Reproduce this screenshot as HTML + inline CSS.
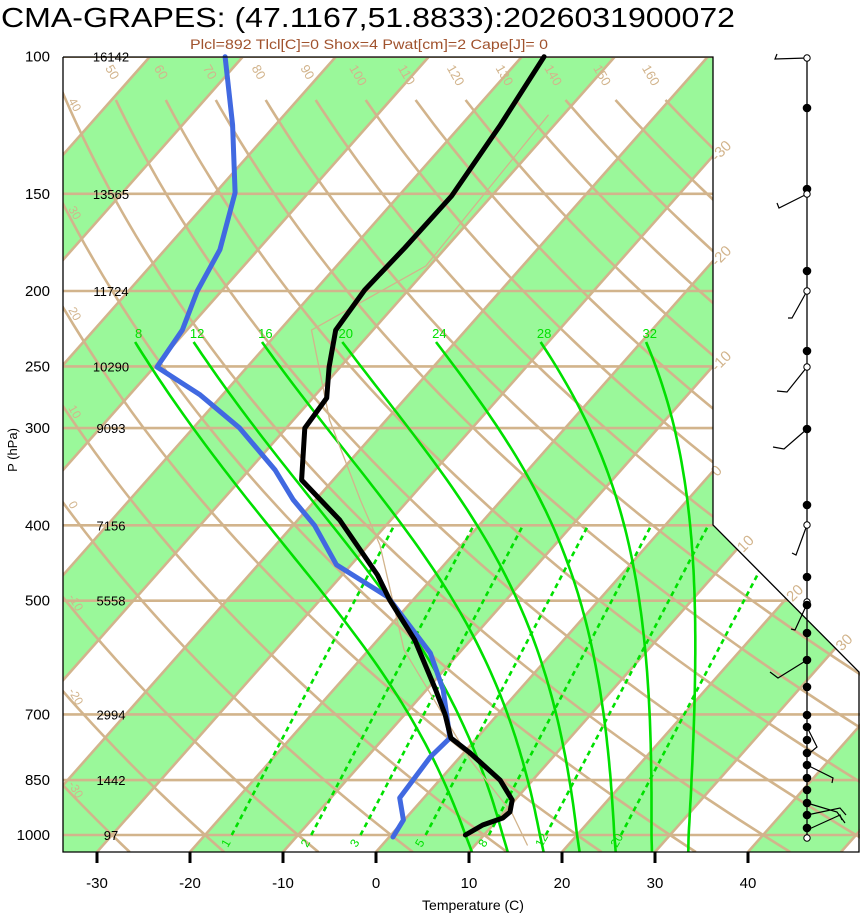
<!DOCTYPE html>
<html><head><meta charset="utf-8"><style>
html,body{margin:0;padding:0;background:#fff;}
svg{display:block;font-family:"Liberation Sans",sans-serif;}
</style></head><body>
<svg id="chart" width="860" height="914" viewBox="0 0 860 914" xmlns="http://www.w3.org/2000/svg">
<defs><clipPath id="plotclip"><polygon points="63,57 713,57 713,525 860,672 860,852 63,852"/></clipPath></defs>
<text x="1" y="27" font-size="28" textLength="734" lengthAdjust="spacingAndGlyphs">CMA-GRAPES: (47.1167,51.8833):2026031900072</text>
<text x="190" y="49" font-size="14" fill="#A0522D" textLength="358" lengthAdjust="spacingAndGlyphs">Plcl=892 Tlcl[C]=0 Shox=4 Pwat[cm]=2 Cape[J]= 0</text>
<g id="bg" clip-path="url(#plotclip)"></g>
<g id="fg"></g>
<text transform="translate(17,450) rotate(-90)" font-size="13" text-anchor="middle">P (hPa)</text>
<text x="473" y="910" font-size="14" text-anchor="middle">Temperature (C)</text>
</svg>
<script>
// ---- data ----
const pLevels=[100,150,200,250,300,400,500,700,850,1000];
const heightLabels=["16142","13565","11724","10290","9093","7156","5558","2994","1442","97"];
const tempTicks=[-30,-20,-10,0,10,20,30,40];
const tempP=[100,122.4,151,176,199.4,224.5,250.4,274.5,300,349.8,393.8,463.4,499,561.6,651,701,750.5,784.6,850,901.6,934,951,970.8,1000];
const tempT=[-57.6,-55.8,-54.3,-54.4,-54.7,-54.0,-51.2,-48.5,-48.0,-43.4,-35.5,-26.2,-22.5,-16.0,-9.0,-5.6,-2.8,0.7,6.5,9.7,10.6,10.4,8.9,8.0];
const dewP=[100,122.4,149.5,177,200,224.5,250.4,272,300,339.6,371,400,449.5,494.5,583.6,651,750.5,794,896,956.6,1006];
const dewT=[-91.9,-84.6,-77.9,-74.1,-72.6,-70.5,-69.7,-62.4,-55.0,-47.2,-42.4,-37.7,-31.6,-23.0,-13.1,-8.2,-2.9,-3.2,-2.6,-0.1,0.4];
const parcelP=[118.9,185.7,224.5,292.9,371,424,578.6,801,937,1030];
const parcelT=[-51.6,-50.4,-56.6,-46.1,-35.2,-28.8,-16.2,1.4,10.9,15.6];
const moistThetaW=[8,12,16,20,24,28,32];
const mixRatios=[1,2,3,5,8,12,20];
const dryThetas=[-40,-30,-20,-10,0,10,20,30,40,50,60,70,80,90,100,110,120,130,140,150,160,170];
const windY=[58,108,189,194,271,291,351,367,429,505,525,577,602,605,633,660,687,715,727,740,753,765,778,790,803,815,828,838];
const windOpen=[1,0,0,1,0,1,0,1,0,0,1,0,1,0,0,0,0,0,0,0,0,0,0,0,0,0,0,1];
// ---- axis functions ----
const X0=376,SX=9.3,K=0.885,YB=852;
function py(p){return 835-338*Math.log(1000/p);}
function tx(T,y){return X0+SX*T+K*(YB-y);}
function yp(y){return 1000*Math.exp(-(835-y)/338);}
const NS="http://www.w3.org/2000/svg";
function mk(parent,tag,attrs){const e=document.createElementNS(NS,tag);for(const k in attrs)e.setAttribute(k,attrs[k]);parent.appendChild(e);return e;}
const bg=document.getElementById('bg'),fg=document.getElementById('fg'),svg=document.getElementById('chart');
const TAN="#D2B48C",GRN="#00E000";
// bands
for(let T=-160;T<=60;T+=20){
 const a=tx(T,YB),b=tx(T+10,YB),c=tx(T+10,57),d=tx(T,57);
 const e=mk(bg,'polygon',{points:`${a},${YB} ${b},${YB} ${c},57 ${d},57`,fill:'#9AF89A'});
 
 
}
// isotherms
for(let T=-160;T<=60;T+=10){
 const e=mk(bg,'line',{x1:tx(T,YB),y1:YB,x2:tx(T,57),y2:57,stroke:TAN,'stroke-width':2.6});
 
 
}
// dry adiabats
dryThetas.forEach(th=>{
 let pts=[];
 const ytop=th>=50?98:57;
 for(let y=YB;y>=ytop;y-=8){const p=yp(y);const T=(th+273.15)*Math.pow(p/1000,0.2857)-273.15;pts.push(tx(T,y).toFixed(1)+','+y);}
 const e=mk(bg,'polyline',{points:pts.join(' '),fill:'none',stroke:TAN,'stroke-width':2.6});
 
 
});
// pressure lines
pLevels.forEach(p=>{
 const y=py(p);
 const e=mk(bg,'line',{x1:63,y1:y,x2:860,y2:y,stroke:TAN,'stroke-width':2.6});
 
 
});
// moist adiabats
function es(Tc){return 6.112*Math.exp(17.67*Tc/(Tc+243.5));}
function thE(Tc,p){const T=Tc+273.15,e=es(Tc),r=0.622*e/(p-e);return T*Math.pow(1000/p,0.2857)*Math.exp(2.5e6*r/(1005*T));}
function moistT(tw,p){const tg=thE(tw,1000);let lo=-130,hi=50;for(let i=0;i<50;i++){const m=(lo+hi)/2;if(thE(m,p)>tg)hi=m;else lo=m;}
 const f=Math.max(0,Math.log(1000/p)/Math.log(1000/232));return (lo+hi)/2+2*f;}
moistThetaW.forEach(tw=>{
 let pts=[];
 const ytop=py(232);
 for(let y=YB;y>=ytop;y-=6){pts.push(tx(moistT(tw,yp(y)),y).toFixed(1)+','+y.toFixed(1));}
 const e=mk(bg,'polyline',{points:pts.join(' '),fill:'none',stroke:GRN,'stroke-width':2.6});
 
 
 const t=mk(fg,'text',{x:tx(moistT(tw,232),ytop)+4,y:ytop-3,'font-size':13,fill:GRN,'text-anchor':'middle'});
 t.textContent=tw;
 
 
});
// mixing ratio lines
mixRatios.forEach(w=>{
 const e1=w*1000/(622+w);const a=Math.log(e1/6.112);const Td=243.5*a/(17.67-a);
 const y1=py(1000),y2=py(400);
 const e=mk(bg,'line',{x1:tx(Td,y1),y1:y1,x2:tx(Td-12,y2),y2:y2,stroke:GRN,'stroke-width':2.6,'stroke-dasharray':'5,4'});
 
 
 const lx=tx(Td,y1)-4;
 const t=mk(bg,'text',{transform:`translate(${lx},848) rotate(-60)`,'font-size':12,fill:GRN});
 t.textContent=w;
 
 
});
// dry adiabat labels
dryThetas.forEach(th=>{
 if(th>=50&&th<=160){
  const y=72;const T=(th+273.15)*Math.pow(yp(y)/1000,0.2857)-273.15;const x=tx(T,y);
  if(x>63&&x<713){const t=mk(fg,'text',{transform:`translate(${x+2},${y-4}) rotate(60)`,'font-size':13,fill:TAN});t.textContent=th;
  
  }
 } else if(th>=-30&&th<=40){
  let yy=null;for(let y=YB;y>=57;y-=1){const T=(th+273.15)*Math.pow(yp(y)/1000,0.2857)-273.15;if(tx(T,y)<=70){yy=y;break;}}
  if(yy){const t=mk(fg,'text',{transform:`translate(68,${yy-8}) rotate(60)`,'font-size':12,fill:TAN});t.textContent=th;
  
  }
 }
});
// isotherm labels on right
[-30,-20,-10,0].forEach(T=>{
 const y=YB-(713-X0-SX*T)/K;
 const t=mk(fg,'text',{transform:`translate(717,${y+6}) rotate(-45)`,'font-size':15,fill:TAN});t.textContent=T;
 
 
});
[10,20,30].forEach(T=>{
 const y=(X0+SX*T+K*YB-713+525)/(1+K);const x=713+(y-525);
 const t=mk(fg,'text',{transform:`translate(${x+6},${y+4}) rotate(-45)`,'font-size':15,fill:TAN});t.textContent=T;
 
 
});
// profile lines
function profile(P,T,color,w,name){
 const pts=P.map((p,i)=>{const y=py(p);return tx(T[i],y).toFixed(1)+','+y.toFixed(1);}).join(' ');
 const e=mk(fg,'polyline',{points:pts,fill:'none',stroke:color,'stroke-width':w,'stroke-linejoin':'round','stroke-linecap':'round'});
 
 
}
profile(parcelP,parcelT,TAN,1.3,'parcel-path');
profile(dewP,dewT,'#4169E1',5,'dewpoint-line');
profile(tempP,tempT,'#000',5,'temperature-line');
// frame
const fr=mk(fg,'polyline',{points:'63,57 713,57 713,525 859,672 859,852 63,852 63,57',fill:'none',stroke:'#000','stroke-width':1.3});


// axes labels
pLevels.forEach((p,i)=>{
 const y=py(p);
 const t=mk(fg,'text',{x:50,y:y+5,'font-size':15,'text-anchor':'end'});t.textContent=p;
 
 
 const h=mk(fg,'text',{x:111,y:y+5,'font-size':13,'text-anchor':'middle'});h.textContent=heightLabels[i];
 
 
});
tempTicks.forEach(T=>{
 const x=X0+SX*T;
 const l=mk(fg,'line',{x1:x,y1:852,x2:x,y2:863,stroke:'#000','stroke-width':3});
 
 
 const t=mk(fg,'text',{x:x,y:888,'font-size':15,'text-anchor':'middle'});t.textContent=T;
 
 
});
// wind column
const staff=mk(fg,'line',{x1:807,y1:57,x2:807,y2:840,stroke:'#000','stroke-width':1.3});


const barbs=[[58,775,59,777,54],[194,779,208,777,203],[291,792,318,788,318],[367,787,392,777,391],[429,784,449,773,447],[525,796,555,792,553],[604,795,630,791,629],[660,778,678,770,672],[727,817,747,811,752],[765,833,778,832,783],[803,837,812,845,823],[815,840,808,846,815],[830,840,815,842,820]];
barbs.forEach(b=>{
 const e=mk(fg,'polyline',{points:`807,${b[0]} ${b[1]},${b[2]} ${b[3]},${b[4]}`,fill:'none',stroke:'#000','stroke-width':1.2});
 
 
});
windY.forEach((y,i)=>{
 const c=mk(fg,'circle',{cx:807,cy:y,r:windOpen[i]?3.2:3.8,fill:windOpen[i]?'#fff':'#000',stroke:'#000','stroke-width':1});
 
 
});
</script>
</body></html>
